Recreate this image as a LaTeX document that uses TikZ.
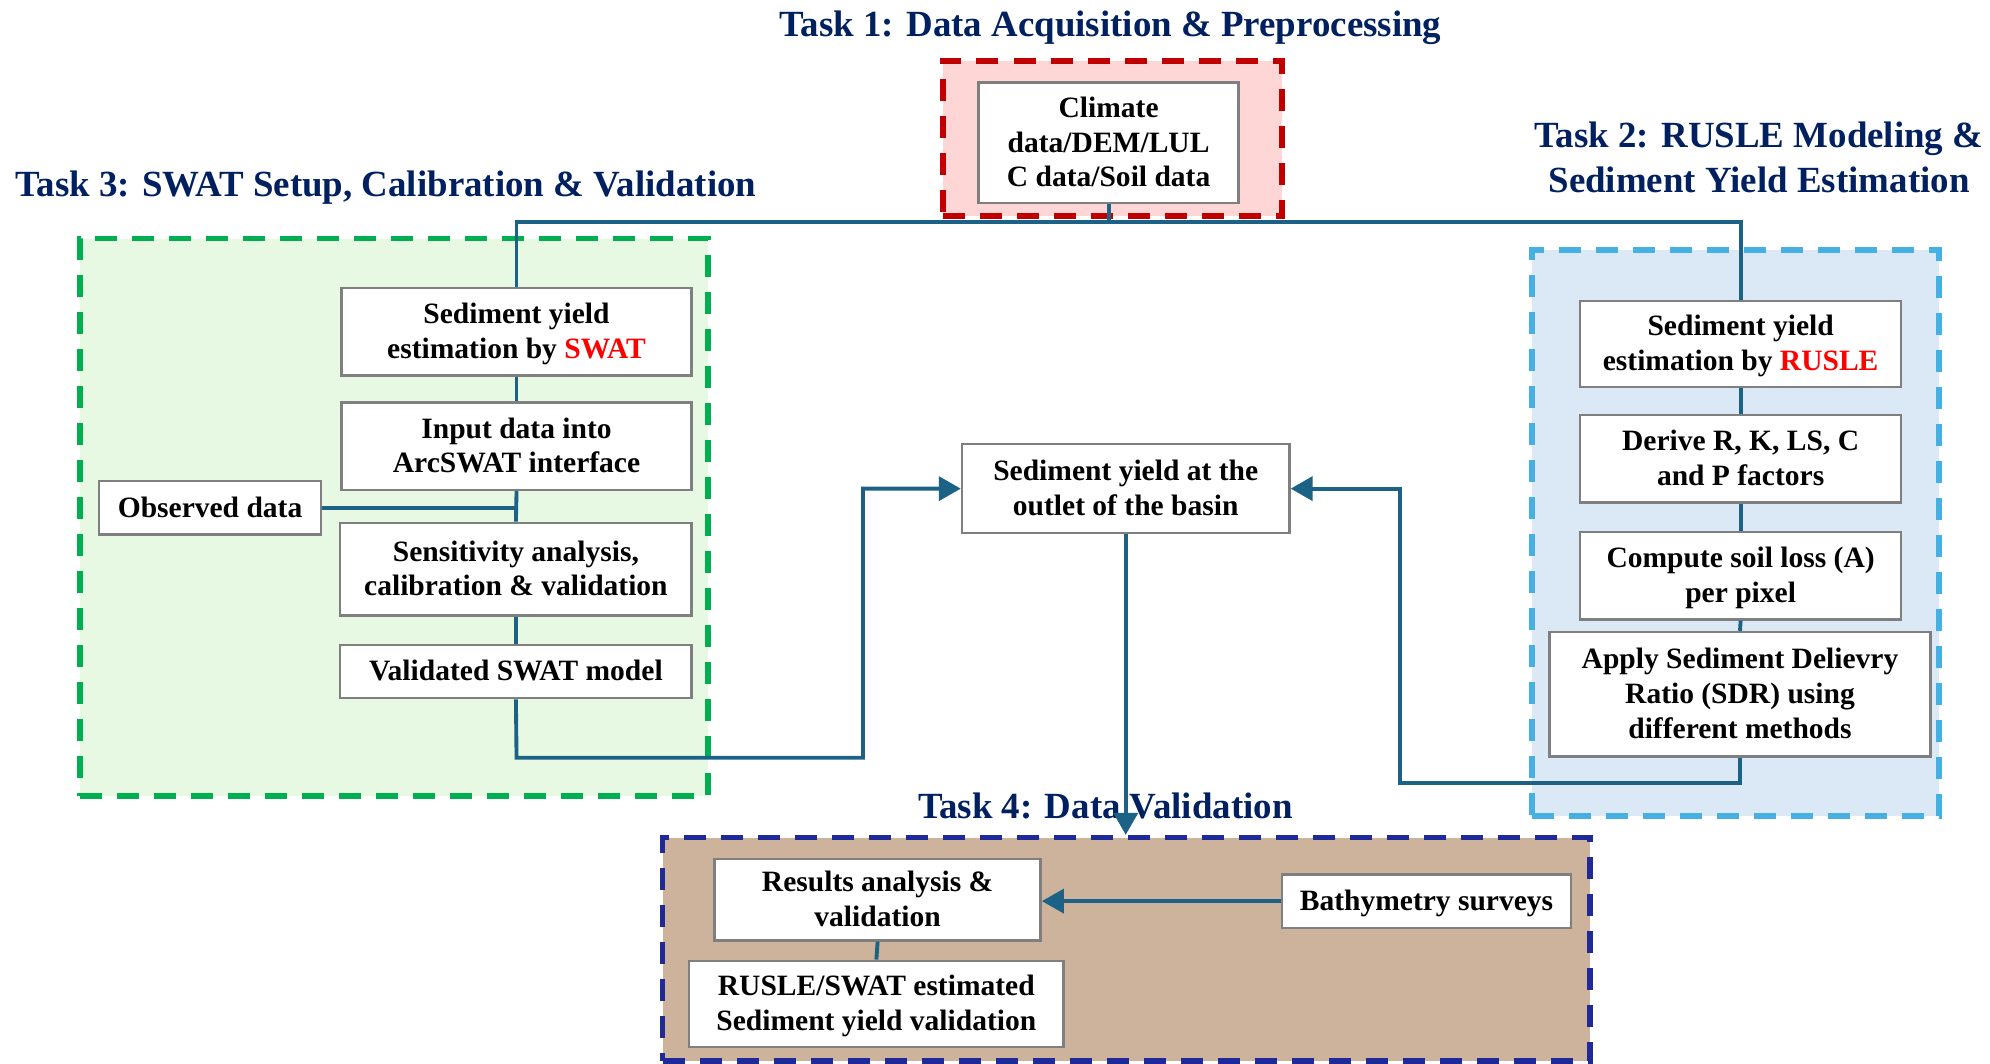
\documentclass[tikz,border=0pt]{standalone}
\usepackage{fontspec}
\setmainfont{Liberation Serif}
\usetikzlibrary{arrows.meta,fit}
\definecolor{navy}{HTML}{002060}
\definecolor{conn}{HTML}{1B6286}
\definecolor{boxgray}{HTML}{7F7F7F}
\definecolor{redfill}{HTML}{FFD6D6}
\definecolor{redline}{HTML}{C00000}
\definecolor{greenfill}{HTML}{E8F9E3}
\definecolor{greenline}{HTML}{00B050}
\definecolor{bluefill}{HTML}{DBE8F5}
\definecolor{blueline}{HTML}{47B0E3}
\definecolor{tanfill}{HTML}{CDB39B}
\definecolor{tanline}{HTML}{1F2A9A}
\newcommand\BX[6]{\node[bx, minimum width={(#4-#2)*0.1269mm}, minimum height={(#5-#3)*0.1269mm}] (#1) at ({(#2+#4)/2},{(#3+#5)/2}) {#6};}
\begin{document}
\begin{tikzpicture}[x=0.1269mm,y=-0.1269mm,
  bx/.style={draw=boxgray, fill=white, line width=0.7pt, inner sep=0pt, align=center,
    font=\fontsize{8.4}{9.9}\selectfont\bfseries, text depth=0.5pt},
  frame/.style={line width=1.6pt, dash pattern=on 2.2mm off 1.5mm, inner sep=0pt},
  ttl/.style={text=navy, align=center, font=\fontsize{10.5}{12.6}\selectfont\bfseries, inner sep=0pt},
  ln/.style={draw=conn, line width=1.1pt},
  arr/.style={ln, -{Triangle[length=2.2mm,width=2.4mm]}}]
\useasboundingbox (0,0) rectangle (1568,838);

% group frames
\node[frame, draw=redline, fill=redfill, fit={(743,48)(1010,170)}] (f1) {};
\node[frame, draw=greenline, fill=greenfill, fit={(63,188)(558,627)}] (f3) {};
\node[frame, draw=blueline, fill=bluefill, fit={(1207,197)(1528,643)}] (f2) {};
\node[frame, draw=tanline, fill=tanfill, fit={(522,660)(1253,836)}] (f4) {};

% titles
\node[ttl] (t1) at (875,22) {Task 1: Data Acquisition \& Preprocessing};
\node[ttl] (t2) at (1386,124) {Task 2: RUSLE Modeling \&\\Sediment Yield Estimation};
\node[ttl] (t3) at (304,148) {Task 3: SWAT Setup, Calibration \& Validation};
\node[ttl] (t4) at (871,635) {Task 4: Data Validation};

% boxes
\BX{clim}{771}{65}{976}{160}{Climate\\data/DEM/LUL\\C data/Soil data}
\BX{swat}{269}{227}{545}{296}{Sediment yield\\estimation by {\color{red}SWAT}}
\BX{arc}{269}{317}{545}{386}{Input data into\\ArcSWAT interface}
\BX{sens}{268}{412}{545}{485}{Sensitivity analysis,\\calibration \& validation}
\BX{val}{268}{508}{545}{550}{Validated SWAT model}
\BX{obs}{78}{379}{253}{421}{Observed data}
\BX{out}{758}{350}{1016}{420}{Sediment yield at the\\outlet of the basin}
\BX{rusle}{1245}{237}{1498}{305}{Sediment yield\\estimation by {\color{red}RUSLE}}
\BX{derive}{1245}{327}{1498}{396}{Derive R, K, LS, C\\and P factors}
\BX{comp}{1245}{419}{1498}{488}{Compute soil loss (A)\\per pixel}
\BX{sdr}{1221}{498}{1521}{596}{Apply Sediment Delievry\\Ratio (SDR) using\\different methods}
\BX{res}{563}{677}{820}{741}{Results analysis \&\\validation}
\BX{rs}{543}{757}{838}{825}{RUSLE/SWAT estimated\\Sediment yield validation}
\BX{bath}{1010}{689}{1238}{731}{Bathymetry surveys}

% helper coordinates
\coordinate (barL) at (407,175);
\coordinate (barR) at (1371.5,175);
\coordinate (l1) at (407,597);
\coordinate (l2) at (680,597);
\coordinate (r1) at (1371,617);
\coordinate (r2) at (1103,617);

% connectors
\draw[ln] (swat.north) -- (barL) -- (barR) -- (rusle.north);
\draw[ln] (clim.south) -- (clim.south |- barL);
\draw[ln] (swat.south) -- (arc.north);
\draw[ln] (arc.south) -- (sens.north);
\draw[ln] (obs.east) -- (obs.east -| sens.north);
\draw[ln] (sens.south) -- (val.north);
\draw[arr] (val.south) -- (l1) -- (l2) |- (out.west);
\draw[ln] (rusle.south) -- (derive.north);
\draw[ln] (derive.south) -- (comp.north);
\draw[ln] (comp.south) -- (sdr.north);
\draw[arr] (sdr.south) -- (r1) -- (r2) |- (out.east);
\draw[arr] (out.south) -- (out.south |- f4.north);
\draw[arr] (bath.west) -- (bath.west -| res.east);
\draw[ln] (res.south) -- (rs.north);
\end{tikzpicture}
\end{document}
